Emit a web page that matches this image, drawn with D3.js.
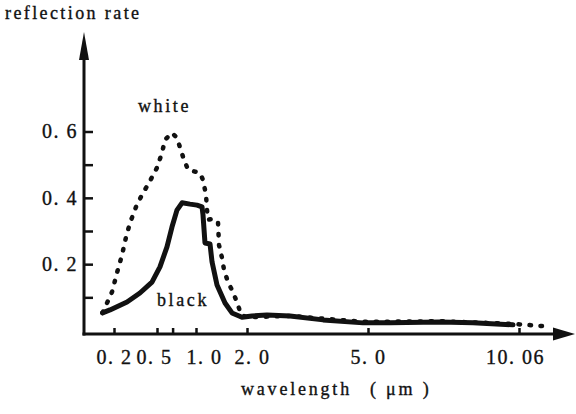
<!DOCTYPE html>
<html>
<head>
<meta charset="utf-8">
<script src="https://cdn.jsdelivr.net/npm/d3@7"></script>
<style>
  html, body { margin: 0; padding: 0; background: #fff; }
  svg { display: block; }
  text { font-family: "Liberation Serif", "DejaVu Serif", serif; fill: #111; stroke: #111; stroke-width: 0.35px; }
</style>
</head>
<body>
<div id="chart"></div>
<script>
// tick values and labels (the wavelength axis is a broken, piecewise scale)
const WAVE_TICKS  = [0.2, 0.5, 0.7, 1.0, 2.0, 5.0, 10.06];
const WAVE_LABELS = ["0. 2", "0. 5", "", "1. 0", "2. 0", "5. 0", "10. 06"];
const RATE_TICKS  = [0.1, 0.2, 0.3, 0.4, 0.5, 0.6];
const RATE_LABELS = ["", "0. 2", "", "0. 4", "", "0. 6"];

// white surface (dotted)
const WHITE_WAVE = [0.12, 0.186, 0.221, 0.256, 0.284, 0.312, 0.354, 0.395, 0.444, 0.5, 0.564, 0.603,
  0.692, 0.756, 0.833, 0.897, 0.987, 1.078, 1.137, 1.196, 1.216, 1.235, 1.333, 1.431, 1.451, 1.51,
  1.549, 1.627, 1.725, 1.824, 1.882, 2.0, 3.07, 4.88, 7.41, 9.86, 11.03];
const WHITE_RATE = [0.053, 0.116, 0.174, 0.228, 0.282, 0.325, 0.373, 0.409, 0.445, 0.491, 0.536, 0.575,
  0.596, 0.581, 0.524, 0.485, 0.479, 0.475, 0.454, 0.409, 0.364, 0.334, 0.337, 0.328, 0.258, 0.219,
  0.183, 0.146, 0.116, 0.077, 0.047, 0.040, 0.044, 0.026, 0.028, 0.020, 0.012];

// black surface (solid)
const BLACK_WAVE = [0.12, 0.172, 0.291, 0.381, 0.465, 0.538, 0.628, 0.692, 0.756, 0.821, 0.923, 1.02,
  1.118, 1.137, 1.176, 1.275, 1.314, 1.412, 1.569, 1.706, 1.902, 2.124, 2.496, 3.067, 3.886, 4.876,
  5.737, 7.413, 8.519, 9.86];
const BLACK_RATE = [0.053, 0.062, 0.086, 0.113, 0.146, 0.192, 0.252, 0.312, 0.363, 0.385, 0.381, 0.378,
  0.373, 0.349, 0.264, 0.261, 0.207, 0.137, 0.083, 0.053, 0.040, 0.044, 0.047, 0.044, 0.032, 0.023,
  0.023, 0.026, 0.023, 0.017];

const width = 576, height = 414;

const svg = d3.select('#chart').append('svg')
  .attr('width', width)
  .attr('height', height);

const x = d3.scaleLinear()
  .domain([0.2, 0.5, 1.0, 2.0, 5.0, 10.06])
  .range([114, 157, 196, 247, 368, 519]);

const y = d3.scaleLinear()
  .domain([0, 0.6])
  .range([330.5, 131.5]);

const axisX = 84;          // position of the vertical axis
const axisY = 334;         // position of the horizontal axis
const ink = '#111';

// axes lines + arrowheads
svg.append('line')
  .attr('x1', axisX).attr('y1', axisY + 1.5)
  .attr('x2', axisX).attr('y2', 50)
  .attr('stroke', ink).attr('stroke-width', 3);
svg.append('path')
  .attr('d', `M${axisX},32 L${axisX + 5},60 L${axisX - 5},60 Z`)
  .attr('fill', ink);

svg.append('line')
  .attr('x1', axisX - 1.5).attr('y1', axisY)
  .attr('x2', 558).attr('y2', axisY)
  .attr('stroke', ink).attr('stroke-width', 3);
svg.append('path')
  .attr('d', `M575,${axisY} L553,${axisY - 6.5} L553,${axisY + 6.5} Z`)
  .attr('fill', ink);

// y ticks point into the plot
const gy = svg.append('g')
  .attr('transform', `translate(${axisX},0)`)
  .call(d3.axisLeft(y)
    .tickValues(RATE_TICKS)
    .tickSize(-9)
    .tickPadding(6)
    .tickFormat((d, i) => RATE_LABELS[i]));
gy.select('.domain').remove();
gy.selectAll('.tick line').attr('stroke', ink).attr('stroke-width', 2.5);
gy.selectAll('.tick text')
  .style('font-family', '"Liberation Serif", serif')
  .attr('font-size', 20)
  .attr('letter-spacing', 1.5)
  .attr('fill', ink);

// x ticks point up; labels in the print sit a little off their ticks
const labelShift = { 0.5: -3, 1: 8, 2: 5, 10.06: -4 };
const gx = svg.append('g')
  .attr('transform', `translate(0,${axisY})`)
  .call(d3.axisBottom(x)
    .tickValues(WAVE_TICKS)
    .tickSize(-6)
    .tickPadding(16)
    .tickFormat((d, i) => WAVE_LABELS[i]));
gx.select('.domain').remove();
gx.selectAll('.tick line').attr('stroke', ink).attr('stroke-width', 2.5);
gx.selectAll('.tick text')
  .style('font-family', '"Liberation Serif", serif')
  .attr('font-size', 20)
  .attr('letter-spacing', 1.5)
  .attr('dx', d => labelShift[d] || 0)
  .attr('fill', ink);

// curves
const line = d3.line()
  .x(d => x(d[0]))
  .y(d => y(d[1]))
  .curve(d3.curveLinear);

svg.append('path')
  .datum(d3.zip(WHITE_WAVE, WHITE_RATE))
  .attr('d', line)
  .attr('fill', 'none')
  .attr('stroke', ink)
  .attr('stroke-width', 4.5)
  .attr('stroke-linecap', 'round')
  .attr('stroke-dasharray', '1.5,9.5');

svg.append('path')
  .datum(d3.zip(BLACK_WAVE, BLACK_RATE))
  .attr('d', line)
  .attr('fill', 'none')
  .attr('stroke', ink)
  .attr('stroke-width', 5)
  .attr('stroke-linejoin', 'round')
  .attr('stroke-linecap', 'round');

// texts
svg.append('text')
  .attr('x', 5).attr('y', 19)
  .attr('font-size', 18)
  .attr('letter-spacing', 2.4)
  .text('reflection rate');

svg.append('text')
  .attr('x', 138).attr('y', 112)
  .attr('font-size', 18)
  .attr('letter-spacing', 2.6)
  .text('white');

svg.append('text')
  .attr('x', 157).attr('y', 306)
  .attr('font-size', 18)
  .attr('letter-spacing', 2.6)
  .text('black');

svg.append('text')
  .attr('x', 241).attr('y', 395)
  .attr('font-size', 18)
  .attr('letter-spacing', 2.8)
  .text('wavelength');

svg.append('text')
  .attr('x', 370).attr('y', 395)
  .attr('font-size', 18)
  .attr('letter-spacing', 2.8)
  .text('( μm )');
</script>
</body>
</html>
